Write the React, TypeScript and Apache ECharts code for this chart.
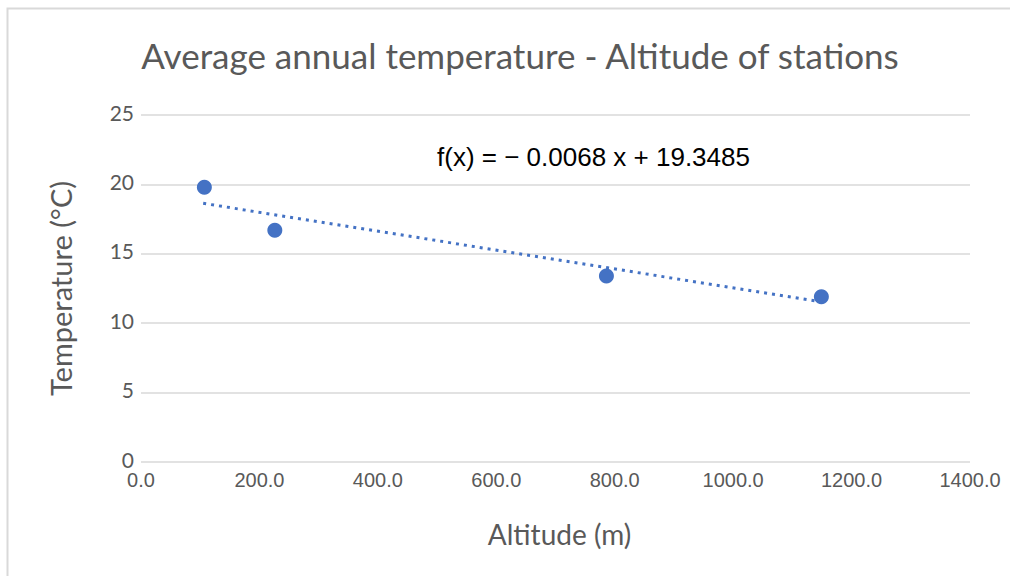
import React, { useEffect, useRef } from "react";
import * as echarts from "echarts";

const altitudes = [107, 226, 786, 1149];
const temperatures = [19.8, 16.7, 13.4, 11.9];
const slope = -0.0068;
const intercept = 19.3485;
const trendX = [105, 1140];
const xTicks = [0, 200, 400, 600, 800, 1000, 1200, 1400];
const yTicks = [0, 5, 10, 15, 20, 25];

const BLUE = "#4472C4";

export default function App() {
  const ref = useRef<HTMLDivElement>(null);
  useEffect(() => {
    if (!ref.current) return;
    const chart = echarts.init(ref.current, null, { renderer: "svg" });
    const points = altitudes.map((a, i) => [a, temperatures[i]]);
    const trend = trendX.map((x) => [x, slope * x + intercept]);
    chart.setOption({
      animation: false,
      backgroundColor: "#ffffff",
      title: {
        text: "Average annual temperature - Altitude of stations",
        left: 515,
        top: 32,
        textAlign: "center",
        textStyle: {
          fontFamily: "Lato",
          fontSize: 35,
          fontWeight: "normal",
          color: "#595959",
        },
      },
      grid: { left: 141, right: 40, top: 115, bottom: 114 },
      xAxis: {
        type: "value",
        min: xTicks[0],
        max: xTicks[xTicks.length - 1],
        interval: 200,
        name: "Altitude (m)",
        nameLocation: "middle",
        nameGap: 58,
        nameTextStyle: { fontFamily: "Lato", fontSize: 28, color: "#595959", padding: [0, 0, 0, 8] },
        axisLine: { show: false },
        axisTick: { show: false },
        splitLine: { show: false },
        axisLabel: {
          fontFamily: "Liberation Sans",
          fontSize: 20,
          color: "#595959",
          margin: 8,
          formatter: (v: number) => v.toFixed(1),
        },
      },
      yAxis: {
        type: "value",
        min: yTicks[0],
        max: yTicks[yTicks.length - 1],
        interval: 5,
        name: "Temperature (°C)",
        nameLocation: "middle",
        nameGap: 66,
        nameTextStyle: { fontFamily: "Lato", fontSize: 29, color: "#595959" },
        axisLine: { show: false },
        axisTick: { show: false },
        splitLine: { lineStyle: { color: "#d9d9d9", width: 1.5 } },
        axisLabel: {
          fontFamily: "Lato",
          fontSize: 21,
          color: "#595959",
          margin: 7,
          verticalAlign: "bottom",
          lineHeight: 6,
        },
      },
      graphic: [
        {
          type: "rect",
          shape: { x: 7.5, y: 8.5, width: 1100, height: 700 },
          style: { fill: "none", stroke: "#d9d9d9", lineWidth: 2 },
          silent: true,
        },
        {
          type: "text",
          x: 437,
          y: 157,
          style: {
            text: "f(x) = − 0.0068 x + 19.3485",
            font: '26px "Liberation Sans"',
            fill: "#000000",
            textVerticalAlign: "middle",
          },
        },
      ],
      series: [
        {
          type: "line",
          data: trend,
          symbol: "none",
          lineStyle: { color: BLUE, width: 3, type: [3, 5] },
          z: 2,
        },
        {
          type: "scatter",
          data: points,
          symbol: "circle",
          symbolSize: 15,
          itemStyle: { color: BLUE, opacity: 1 },
          z: 3,
        },
      ],
    });
    return () => chart.dispose();
  }, []);
  return <div ref={ref} style={{ width: 1010, height: 576, position: "absolute", left: 0, top: 0 }} />;
}
